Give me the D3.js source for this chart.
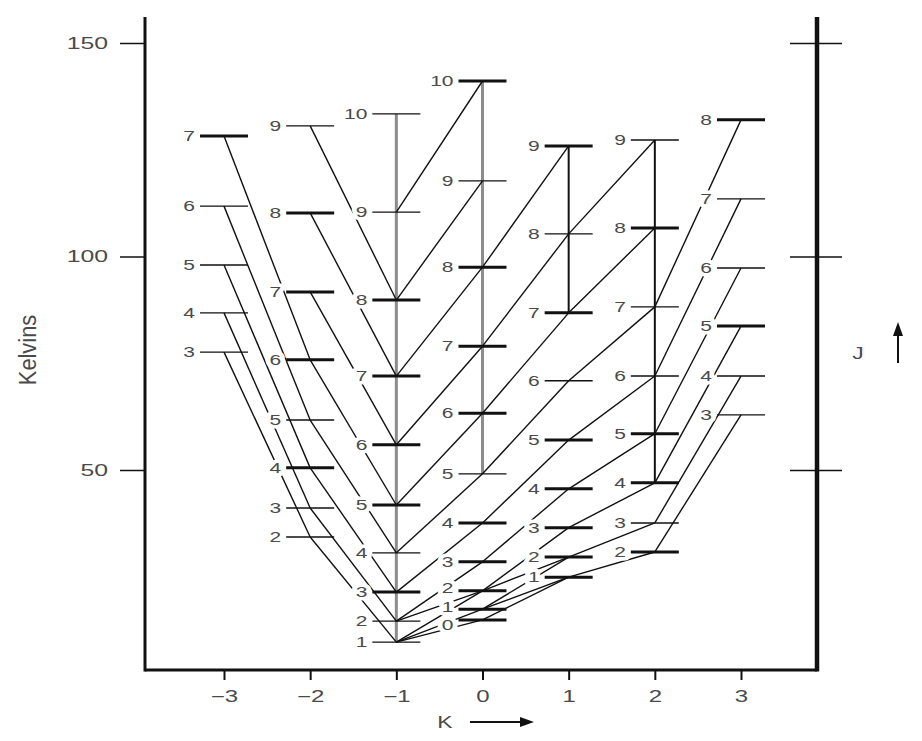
<!DOCTYPE html>
<html><head><meta charset="utf-8">
<script src="https://cdn.jsdelivr.net/npm/d3@7"></script>
<style>body{margin:0;background:#fff}</style>
</head><body><svg id="c" width="922" height="741"></svg>
<script>
// ---------- data ----------
const kTicks = [-3, -2, -1, 0, 1, 2, 3];
const eTicks = [50, 100, 150];

const jKm3 = [3, 4, 5, 6, 7];
const eKm3 = [77.6, 86.8, 98.0, 111.8, 128.2];
const jKm2 = [2, 3, 4, 5, 6, 7, 8, 9];
const eKm2 = [34.3, 41.1, 50.5, 61.7, 75.8, 91.7, 110.2, 130.6];
const jKm1 = [1, 2, 3, 4, 5, 6, 7, 8, 9, 10];
const eKm1 = [9.7, 14.6, 21.4, 30.6, 41.8, 55.9, 72.0, 89.8, 110.4, 133.4];
const jK0 = [0, 1, 2, 3, 4, 5, 6, 7, 8, 9, 10];
const eK0 = [14.9, 17.4, 21.7, 28.5, 37.6, 49.1, 63.3, 79.0, 97.5, 117.7, 141.1];
const jK1 = [1, 2, 3, 4, 5, 6, 7, 8, 9];
const eK1 = [24.9, 29.6, 36.5, 45.6, 57.0, 70.9, 86.8, 105.3, 125.9];
const jK2 = [2, 3, 4, 5, 6, 7, 8, 9];
const eK2 = [30.8, 37.6, 47.0, 58.5, 72.0, 88.2, 106.7, 127.3];
const jK3 = [3, 4, 5, 6, 7, 8];
const eK3 = [62.9, 72.0, 83.7, 97.3, 113.5, 132.0];

// levels drawn heavy in the figure
const heavyLevels = ["-3:7", "-2:4", "-2:6", "-2:7", "-2:8",
  "-1:3", "-1:5", "-1:6", "-1:7", "-1:8",
  "0:0", "0:1", "0:2", "0:3", "0:4", "0:6", "0:7", "0:8", "0:10",
  "1:1", "1:2", "1:3", "1:4", "1:5", "1:7", "1:9",
  "2:2", "2:4", "2:5", "2:8", "3:5", "3:8"];

// K-ladder vertical lines: [K, Jlow, Jhigh]
const ladders = [[-1, 1, 10], [0, 5, 10], [1, 7, 9], [2, 4, 9]];
const ladderGrey = [true, true, false, false];

// connections [K1, J1, K2, J2]
const links = [
  [-3,7,-2,6],[-3,6,-2,5],[-3,5,-2,4],[-3,4,-2,3],[-3,3,-2,2],
  [-2,9,-1,8],[-2,8,-1,7],[-2,7,-1,6],[-2,6,-1,5],[-2,5,-1,4],[-2,4,-1,3],[-2,3,-1,2],[-2,2,-1,1],
  [-1,1,0,2],[-1,2,0,3],[-1,3,0,4],[-1,4,0,5],[-1,5,0,6],[-1,6,0,7],[-1,7,0,8],[-1,8,0,9],[-1,9,0,10],
  [0,0,1,1],[0,1,1,2],[0,2,1,3],[0,3,1,4],[0,4,1,5],[0,5,1,6],[0,6,1,7],[0,7,1,8],[0,8,1,9],
  [1,1,2,2],[1,2,2,3],[1,3,2,4],[1,4,2,5],[1,5,2,6],[1,6,2,7],[1,7,2,8],[1,8,2,9],
  [2,2,3,3],[2,3,3,4],[2,4,3,5],[2,5,3,6],[2,6,3,7],[2,7,3,8],
  [-1,1,0,0],[-1,1,0,1],[-1,2,0,2],[0,1,1,1],[0,2,1,2]
];

// ---------- build ----------
const ladderData = [[-3,jKm3,eKm3],[-2,jKm2,eKm2],[-1,jKm1,eKm1],[0,jK0,eK0],[1,jK1,eK1],[2,jK2,eK2],[3,jK3,eK3]];
const levels = [];
const lookup = {};
ladderData.forEach(([k, js, es]) => js.forEach((j, i) => {
  const d = {k, j, e: es[i]};
  levels.push(d); lookup[k + ":" + j] = d;
}));

const svg = d3.select("#c");
const xs = d3.scaleLinear().domain([-3, 3]).range([224, 741]);
const ys = d3.scaleLinear().domain([50, 150]).range([470, 43]);
const plotL = 145, plotR = 817, plotT = 17, plotB = 670;
const halfW = 24;
const FONT = "'Liberation Sans', Arial, Helvetica, sans-serif";
const TXT = "#4a4a4a";
// small vertical nudges for crowded labels (px)
const labelNudge = {"0:2": -3, "0:1": -2, "0:0": 5};

// ladder verticals
svg.append("g").selectAll("line").data(ladders).join("line")
  .attr("x1", d => xs(d[0])).attr("x2", d => xs(d[0]))
  .attr("y1", d => ys(lookup[d[0] + ":" + d[1]].e))
  .attr("y2", d => ys(lookup[d[0] + ":" + d[2]].e))
  .attr("stroke", (d, i) => ladderGrey[i] ? "#8c8c8c" : "#111")
  .attr("stroke-width", (d, i) => ladderGrey[i] ? 3 : 2);

// connection lines
svg.append("g").selectAll("line").data(links).join("line")
  .attr("x1", d => xs(d[0])).attr("y1", d => ys(lookup[d[0] + ":" + d[1]].e))
  .attr("x2", d => xs(d[2])).attr("y2", d => ys(lookup[d[2] + ":" + d[3]].e))
  .attr("stroke", "#111").attr("stroke-width", 1.4);

// level labels (with white halo masking the lines)
svg.append("g").selectAll("text").data(levels).join("text")
  .attr("transform", d => `translate(${xs(d.k) - 29},${ys(d.e) + 5.2 + (labelNudge[d.k + ":" + d.j] || 0)}) scale(1.4,1)`)
  .attr("text-anchor", "end")
  .attr("font-family", FONT).attr("font-size", 15)
  .attr("fill", TXT)
  .attr("stroke", "#fff").attr("stroke-width", 7).attr("paint-order", "stroke")
  .attr("stroke-linejoin", "round")
  .text(d => d.j);

// levels
svg.append("g").selectAll("line").data(levels).join("line")
  .attr("x1", d => xs(d.k) - halfW).attr("x2", d => xs(d.k) + halfW)
  .attr("y1", d => ys(d.e)).attr("y2", d => ys(d.e))
  .attr("stroke", "#111")
  .attr("stroke-width", d => heavyLevels.includes(d.k + ":" + d.j) ? 3 : 1.4);

// ---------- axes ----------
const frame = svg.append("g").attr("stroke", "#111").attr("fill", "none");
frame.append("line").attr("x1", plotL).attr("x2", plotL).attr("y1", plotT).attr("y2", plotB + 1.5).attr("stroke-width", 3);
frame.append("line").attr("x1", plotL).attr("x2", plotR).attr("y1", plotB).attr("y2", plotB).attr("stroke-width", 3);
frame.append("line").attr("x1", plotR).attr("x2", plotR).attr("y1", plotT).attr("y2", plotB + 1.5).attr("stroke-width", 4.5);

const yAxis = svg.append("g").attr("transform", `translate(${plotL},0)`)
  .call(d3.axisLeft(ys).tickValues(eTicks).tickSize(25).tickPadding(12));
yAxis.select(".domain").remove();
yAxis.selectAll(".tick line").attr("stroke", "#111").attr("stroke-width", 1.5);
yAxis.selectAll(".tick text").each(function () {
  const t = d3.select(this);
  t.attr("transform", `translate(${-37},0) scale(1.55,1)`).attr("x", 0)
   .attr("font-family", FONT).attr("font-size", 16).attr("fill", TXT);
});

const yAxisR = svg.append("g").attr("transform", `translate(${plotR + 25},0)`)
  .call(d3.axisLeft(ys).tickValues(eTicks).tickSize(52).tickFormat(""));
yAxisR.select(".domain").remove();
yAxisR.selectAll(".tick line").attr("stroke", "#111").attr("stroke-width", 1.5);

const xAxis = svg.append("g").attr("transform", `translate(0,${plotB})`)
  .call(d3.axisBottom(xs).tickValues(kTicks).tickSize(10).tickPadding(11)
    .tickFormat(d => d < 0 ? "\u2212" + (-d) : String(d)));
xAxis.select(".domain").remove();
xAxis.selectAll(".tick line").attr("stroke", "#111").attr("stroke-width", 2);
xAxis.selectAll(".tick text").each(function () {
  const t = d3.select(this);
  t.attr("transform", `translate(0,21) scale(1.5,1)`).attr("y", 0)
   .attr("font-family", FONT).attr("font-size", 16).attr("fill", TXT);
});

// axis titles
svg.append("text")
  .attr("transform", "translate(36,350) rotate(-90) scale(1.15,1.3)")
  .attr("text-anchor", "middle")
  .attr("font-family", FONT).attr("font-size", 19).attr("fill", TXT)
  .text("Kelvins");

svg.append("text")
  .attr("transform", "translate(445,728) scale(1.35,1)")
  .attr("text-anchor", "middle")
  .attr("font-family", FONT).attr("font-size", 17).attr("fill", TXT)
  .text("K");
svg.append("line").attr("x1", 470).attr("x2", 522).attr("y1", 722).attr("y2", 722)
  .attr("stroke", "#111").attr("stroke-width", 2);
svg.append("path").attr("d", "M520,717 L534,722 L520,727 Z").attr("fill", "#111");

svg.append("text")
  .attr("transform", "translate(858,359) scale(1.35,1)")
  .attr("text-anchor", "middle")
  .attr("font-family", FONT).attr("font-size", 17).attr("fill", TXT)
  .text("J");
svg.append("line").attr("x1", 898).attr("x2", 898).attr("y1", 363).attr("y2", 333)
  .attr("stroke", "#111").attr("stroke-width", 2);
svg.append("path").attr("d", "M893,336 L898,322 L903,336 Z").attr("fill", "#111");
</script></body></html>
